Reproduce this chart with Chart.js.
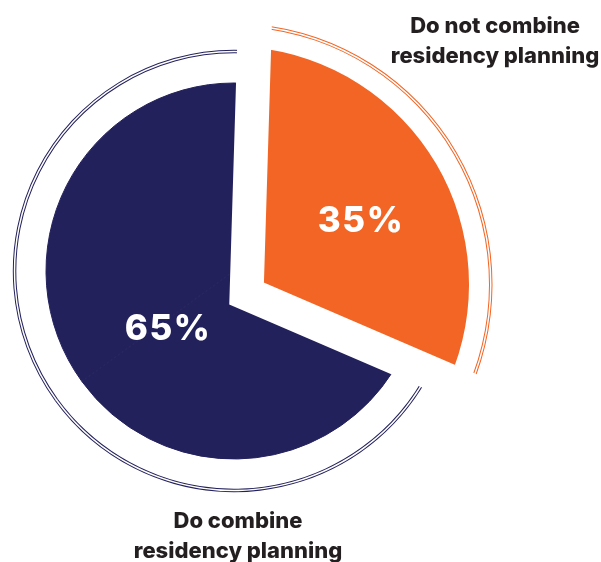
<!DOCTYPE html>
<html>
<head>
<meta charset="utf-8">
<script src="https://cdn.jsdelivr.net/npm/chart.js@4.4.1/dist/chart.umd.min.js"></script>
<style>
  html, body { margin: 0; padding: 0; background: #fff; overflow: hidden; }
  #wrap { position: relative; width: 601px; height: 562px; font-family: Inter, "Noto Sans", sans-serif; }
  #wrap canvas { position: absolute; left: 0; top: 0; }
  .lbl { position: absolute; font-weight: 800; color: #231f20; font-size: 22px; line-height: 30px;
         text-align: center; white-space: nowrap; transform: translateX(-50%); }
  .pct { position: absolute; font-weight: 800; color: #fff; font-size: 35px; line-height: 1;
         letter-spacing: 1.5px; white-space: nowrap; transform: translate(-50%, -50%); }
</style>
</head>
<body>
<div id="wrap">
  <canvas id="navyLayer" width="601" height="562"></canvas>
  <canvas id="orangeLayer" width="601" height="562"></canvas>
  <canvas id="gapLayer" width="601" height="562"></canvas>
</div>
<script>
// data
const categories = ["Do combine residency planning", "Do not combine residency planning"];
const labelLines = [["Do combine", "residency planning"], ["Do not combine", "residency planning"]];
const shares = [65, 35];

// where the texts sit
const labelPos = [{ x: 238, y: 505 }, { x: 495, y: 10 }];
const pctPos = [{ x: 168, y: 327 }, { x: 361, y: 219 }];

const NAVY = "#23215b";
const ORANGE = "#f26524";
const CLEAR = "rgba(0,0,0,0)";

Chart.defaults.animation = false;
Chart.defaults.events = [];
Chart.defaults.plugins.legend.display = false;
Chart.defaults.plugins.tooltip.enabled = false;

// thin band (used for the double outline rings and the spacers)
function band(colors, weight) {
  return { data: shares, backgroundColor: colors, borderWidth: 0, weight: weight };
}

// navy layer: whole disc + double ring, the orange share is covered by the exploded slice above
new Chart(document.getElementById("navyLayer"), {
  type: "pie",
  data: {
    labels: categories,
    datasets: [
      band([NAVY, NAVY], 1),
      band(CLEAR, 1.5),
      band([NAVY, NAVY], 1),
      band(CLEAR, 29.7),
      { data: shares, backgroundColor: NAVY, borderColor: NAVY, borderWidth: 1, weight: 188 }
    ]
  },
  options: {
    responsive: false,
    radius: 221.2,
    layout: { padding: { right: 133, bottom: 20 } }
  }
});

// orange layer: exploded, bigger slice with its own ring
new Chart(document.getElementById("orangeLayer"), {
  type: "pie",
  data: {
    labels: categories,
    datasets: [
      band([CLEAR, ORANGE], 1),
      band(CLEAR, 1.5),
      band([CLEAR, ORANGE], 1),
      band(CLEAR, 20),
      { data: shares, backgroundColor: [CLEAR, ORANGE], borderWidth: 0, weight: 238 }
    ]
  },
  options: {
    responsive: false,
    radius: 261.5,
    rotation: -195.4,
    circumference: 309.1,
    layout: { padding: { right: 139, top: 7 } }
  }
});

// white gap cut between the two slices
new Chart(document.getElementById("gapLayer"), {
  type: "pie",
  data: {
    labels: categories,
    datasets: [{
      data: shares,
      backgroundColor: CLEAR,
      borderColor: [CLEAR, "#fff"],
      borderWidth: [0, 34],
      borderAlign: "center",
      borderJoinStyle: "miter"
    }]
  },
  options: {
    responsive: false,
    radius: 292,
    rotation: -205.4,
    circumference: 318.7,
    layout: { padding: { right: 107.8, top: 25 } }
  }
});

// texts
const wrap = document.getElementById("wrap");
shares.forEach((v, i) => {
  const p = document.createElement("div");
  p.className = "pct";
  p.style.left = pctPos[i].x + "px";
  p.style.top = pctPos[i].y + "px";
  p.textContent = v + "%";
  wrap.appendChild(p);

  const l = document.createElement("div");
  l.className = "lbl";
  l.style.left = labelPos[i].x + "px";
  l.style.top = labelPos[i].y + "px";
  l.innerHTML = labelLines[i].join("<br>");
  wrap.appendChild(l);
});
</script>
</body>
</html>
